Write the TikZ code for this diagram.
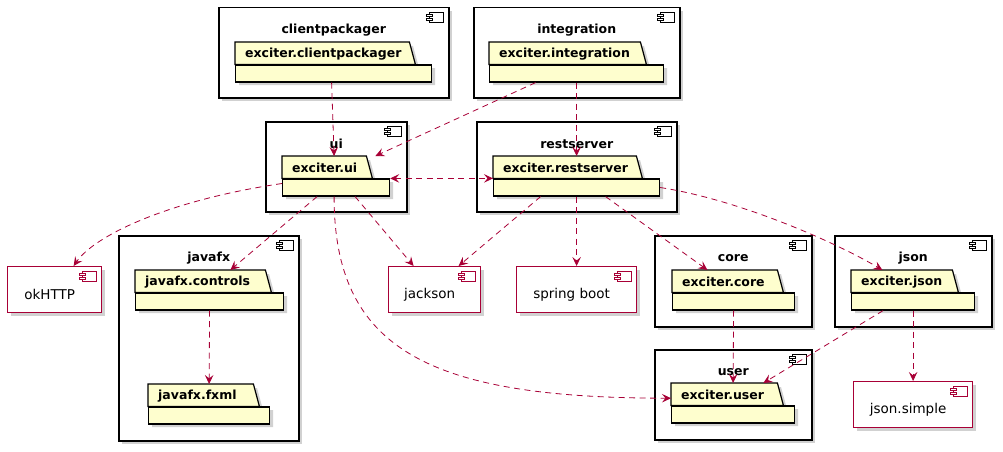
\documentclass[tikz,border=0pt]{standalone}
\usepackage{fontspec}
\setmainfont{DejaVu Sans}
\usetikzlibrary{arrows.meta,calc}
\definecolor{pred}{HTML}{A80036}
\definecolor{pfill}{HTML}{FEFECE}
\tikzset{
  compbox/.style={draw=black, line width=1.5pt, fill=white, inner sep=0pt, anchor=north west},
  extbox/.style={draw=pred, line width=1.2pt, fill=white, inner sep=0pt, anchor=north west},
  extlabel/.style={font=\fontsize{13.5}{16}\selectfont, inner sep=0pt},
  titletext/.style={font=\bfseries\fontsize{12.5}{15}\selectfont, inner sep=0pt},
  pbody/.style={draw=black, line width=1.2pt, fill=pfill, inner sep=0pt, anchor=north west},
  ptab/.style={draw=black, line width=1.2pt, fill=pfill},
  shadowfill/.style={fill=black!18, draw=none},
  dep/.style={draw=pred, line width=0.8pt, dash pattern=on 6pt off 4.5pt},
  tip/.style={-{Stealth[length=9pt,width=8.5pt,inset=3.5pt]}},
  bitip/.style={{Stealth[length=9pt,width=8.5pt,inset=3.5pt]}-{Stealth[length=9pt,width=8.5pt,inset=3.5pt]}}
}
% component icon: #1 colour, #2 right x, #3 top y
\newcommand\myicon[3]{%
  \filldraw[draw=#1, fill=white, line width=0.9pt] ({#2-19},{#3+5}) rectangle ({#2-5},{#3+15});
  \filldraw[draw=#1, fill=white, line width=0.9pt] ({#2-22},{#3+7}) rectangle ({#2-16},{#3+9.5});
  \filldraw[draw=#1, fill=white, line width=0.9pt] ({#2-22},{#3+11}) rectangle ({#2-16},{#3+13.5});
}
% container component: name, x1, y1, x2, y2, title
\newcommand\mycomp[6]{%
  \fill[shadowfill] ({#2+4},{#3+4}) rectangle ({#4+4},{#5+4});
  \node[compbox, minimum width={#4-#2}, minimum height={#5-#3}] (#1) at (#2,#3) {};
  \node[titletext] (#1-title) at ($(#1.north)+(0,23)$) {#6};
  \myicon{black}{#4}{#3}
}
% external component
\newcommand\myext[6]{%
  \fill[shadowfill] ({#2+4},{#3+4}) rectangle ({#4+4},{#5+4});
  \node[extbox, minimum width={#4-#2}, minimum height={#5-#3}] (#1) at (#2,#3) {};
  \node[extlabel] (#1-label) at ($(#1.center)+(-5,5)$) {#6};
  \myicon{pred}{#4}{#3}
}
% package: name, left, top, tab right, body right, label
\newcommand\mypkg[6]{%
  \fill[shadowfill] ({#2+4},{#3+4}) -- ({#4+4},{#3+4}) -- ({#4+10},{#3+26}) -- ({#5+4},{#3+26})
     -- ({#5+4},{#3+43}) -- ({#2+4},{#3+43}) -- cycle;
  \node[inner sep=0pt, minimum width={#4-#2}, minimum height=22, anchor=north west] (#1t) at (#2,#3) {};
  \filldraw[ptab] (#1t.south west) -- (#1t.north west) -- (#1t.north east) -- ([xshift=6pt]#1t.south east) -- cycle;
  \node[titletext, anchor=west] (#1l) at ($(#1t.west)+(10,1)$) {#6};
  \node[pbody, minimum width={#5-#2}, minimum height=17] (#1) at (#1t.south west) {};
}
\begin{document}
\begin{tikzpicture}[x=1pt, y=-1pt]
\useasboundingbox (0,0) rectangle (1003,452);

% containers
\mycomp{cp}{218}{7}{448}{97}{clientpackager}
\mycomp{in}{473}{7}{679}{97}{integration}
\mycomp{uic}{265}{121}{406}{211}{ui}
\mycomp{rsc}{476}{121}{676}{211}{restserver}
\mycomp{jfx}{118}{235}{298}{440}{javafx}
\mycomp{corec}{654}{235}{811}{326}{core}
\mycomp{jsonc}{834}{235}{991}{326}{json}
\mycomp{userc}{654}{349}{811}{439}{user}

% packages
\mypkg{cpp}{235}{42}{409}{431}{exciter.clientpackager}
\mypkg{inp}{489}{42}{640}{663}{exciter.integration}
\mypkg{uip}{282}{156}{366}{389}{exciter.ui}
\mypkg{rsp}{493}{156}{636}{659}{exciter.restserver}
\mypkg{jcp}{135}{270}{265}{283}{javafx.controls}
\mypkg{jfp}{148}{384}{253}{269}{javafx.fxml}
\mypkg{corep}{672}{270}{777}{794}{exciter.core}
\mypkg{jsonp}{851}{270}{952}{974}{exciter.json}
\mypkg{userp}{671}{383}{777}{794}{exciter.user}

% external components
\myext{ok}{7}{266}{101}{312}{okHTTP}
\myext{jack}{388}{266}{480}{312}{jackson}
\myext{sb}{516}{266}{636}{312}{spring boot}
\myext{js}{853}{381}{972}{427}{json.simple}

% dependencies
\draw[dep, tip] ([xshift=-2pt]cpp.south) -- ([xshift=-2pt]uip.center |- uipt.north);
\draw[dep, tip] ([xshift=-41pt]inp.south) -- ([xshift=9pt]uipt.north east);
\draw[dep, tip] (inp.south) -- (rsp.center |- rspt.north);
\draw[dep, bitip] (uipt.south -| uip.east) -- (rspt.south west);
\draw[dep, tip] ([yshift=4pt]uip.west) .. controls (170,200) and (95,235) .. ([xshift=19pt]ok.north);
\draw[dep, tip] ([xshift=-19pt]uip.south) -- ([xshift=-35pt]jcpt.north east);
\draw[dep, tip] ([xshift=19pt]uip.south) -- ([xshift=-21pt]jack.north);
\draw[dep, tip] ([xshift=-2pt]uip.south) .. controls (334,350) and (430,398) .. ([yshift=-4pt]userpt.west);
\draw[dep, tip] ([xshift=-36pt]rsp.south) -- ([xshift=24pt]jack.north);
\draw[dep, tip] (rsp.south) -- (sb.north);
\draw[dep, tip] ([xshift=29pt]rsp.south) -- ([xshift=-70pt]corept.north east);
\draw[dep, tip] (rsp.east) .. controls (740,200) and (835,242) .. ([xshift=-70pt]jsonpt.north east);
\draw[dep, tip] (corep.south) -- (userp.center |- userpt.north);
\draw[dep, tip] ([xshift=-30pt]jsonp.south) -- ([xshift=-14pt]userpt.north east);
\draw[dep, tip] (jsonp.south) -- (js.north);
\draw[dep, tip] (jcp.south) -- (jfp.center |- jfpt.north);
\end{tikzpicture}
\end{document}
